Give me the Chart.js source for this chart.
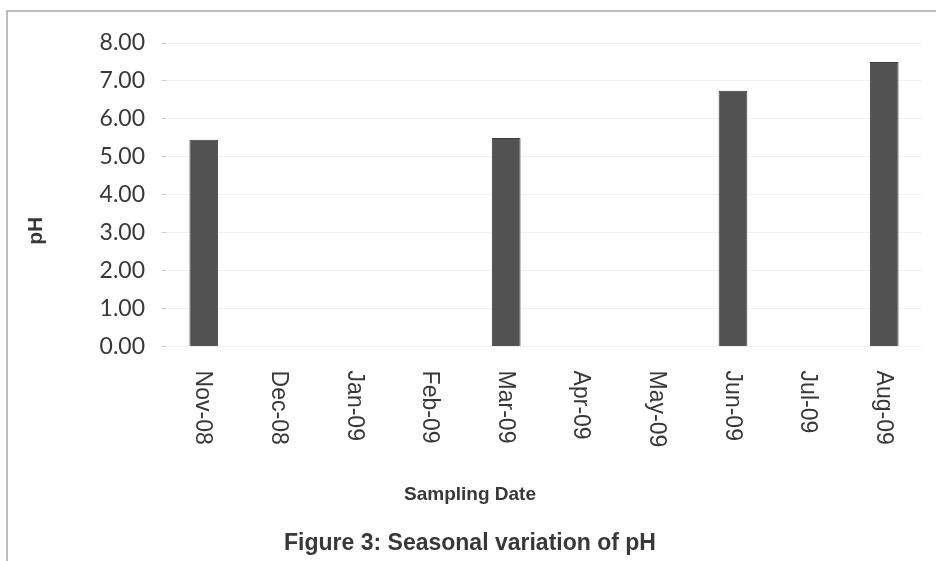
<!DOCTYPE html>
<html>
<head>
<meta charset="utf-8">
<title>Seasonal variation of pH</title>
<script src="https://cdn.jsdelivr.net/npm/chart.js@4.4.1/dist/chart.umd.min.js"></script>
<style>
    html, body { margin: 0; padding: 0; background: #fff; }
    #wrap { position: relative; width: 936px; height: 561px; }
</style>
</head>
<body>
<div id="wrap"><canvas id="phChart"></canvas></div>
<script>
// Sampling months and measured pH (blank months have no sample)
const samplingDates = ['Nov-08', 'Dec-08', 'Jan-09', 'Feb-09', 'Mar-09', 'Apr-09', 'May-09', 'Jun-09', 'Jul-09', 'Aug-09'];
const phValues = [5.45, null, null, null, 5.50, null, null, 6.74, null, 7.50];
const phAxis = { min: 0, max: 8, step: 1 };

const textColor = '#383838';
const sansFamily = '"Liberation Sans", Arial, sans-serif';

// Frame lines round the figure
const framePlugin = {
    id: 'frame',
    beforeDraw(chart) {
        const ctx = chart.ctx;
        ctx.save();
        ctx.strokeStyle = '#a8a8a8';
        ctx.lineWidth = 1.5;
        ctx.beginPath();
        ctx.moveTo(7, 561);
        ctx.lineTo(7, 11);
        ctx.lineTo(936, 11);
        ctx.stroke();
        ctx.restore();
    }
};

// Category labels read top-to-bottom, plus the rotated pH axis label
const sideLabels = {
    id: 'sideLabels',
    afterDraw(chart) {
        const ctx = chart.ctx;
        const xs = chart.scales.x;
        const ys = chart.scales.y;
        ctx.save();
        ctx.fillStyle = textColor;
        ctx.font = '23px ' + sansFamily;
        ctx.textAlign = 'left';
        ctx.textBaseline = 'middle';
        samplingDates.forEach((label, i) => {
            ctx.save();
            ctx.translate(xs.getPixelForValue(i) - 1, xs.top + 24);
            ctx.rotate(Math.PI / 2);
            ctx.fillText(label, 0, 0);
            ctx.restore();
        });

        ctx.font = 'bold 21px ' + sansFamily;
        ctx.textAlign = 'center';
        ctx.translate(36, ys.getPixelForValue(3.05));
        ctx.rotate(-Math.PI / 2);
        ctx.fillText('pH', 0, 0);
        ctx.restore();
    }
};

const ctx = document.getElementById('phChart').getContext('2d');
new Chart(ctx, {
    type: 'bar',
    data: {
        labels: samplingDates,
        datasets: [{
            label: 'pH',
            data: phValues,
            backgroundColor: '#525252',
            borderColor: '#3c3c3c',
            borderWidth: 1,
            categoryPercentage: 1,
            barPercentage: 0.38
        }]
    },
    options: {
        responsive: true,
        maintainAspectRatio: false,
        animation: false,
        layout: {
            padding: { top: 43, right: 14, bottom: 0, left: 18 }
        },
        plugins: {
            legend: { display: false },
            tooltip: { enabled: false },
            // x-axis name, sits just under the month labels
            subtitle: {
                display: true,
                position: 'bottom',
                text: 'Sampling Date',
                color: textColor,
                font: { family: sansFamily, size: 19, weight: 'bold' },
                padding: { top: 0, bottom: 23 }
            },
            title: {
                display: true,
                position: 'bottom',
                text: 'Figure 3: Seasonal variation of pH',
                color: textColor,
                font: { family: sansFamily, size: 23, weight: 'bold' },
                padding: { top: 0, bottom: 4 }
            }
        },
        scales: {
            x: {
                grid: { display: false },
                border: { display: false },
                ticks: { display: false },
                afterFit(scale) {
                    scale.height = 137;
                }
            },
            y: {
                min: phAxis.min,
                max: phAxis.max,
                grid: {
                    color: '#f1f1f1',
                    tickColor: '#c8c8c8',
                    tickLength: 4
                },
                border: { display: false },
                ticks: {
                    stepSize: phAxis.step,
                    padding: 17,
                    color: textColor,
                    font: { family: 'Lato, "Open Sans", sans-serif', size: 23 },
                    callback: (v) => v.toFixed(2)
                },
                afterFit(scale) {
                    scale.width = 148;
                }
            }
        }
    },
    plugins: [framePlugin, sideLabels]
});
</script>
</body>
</html>
